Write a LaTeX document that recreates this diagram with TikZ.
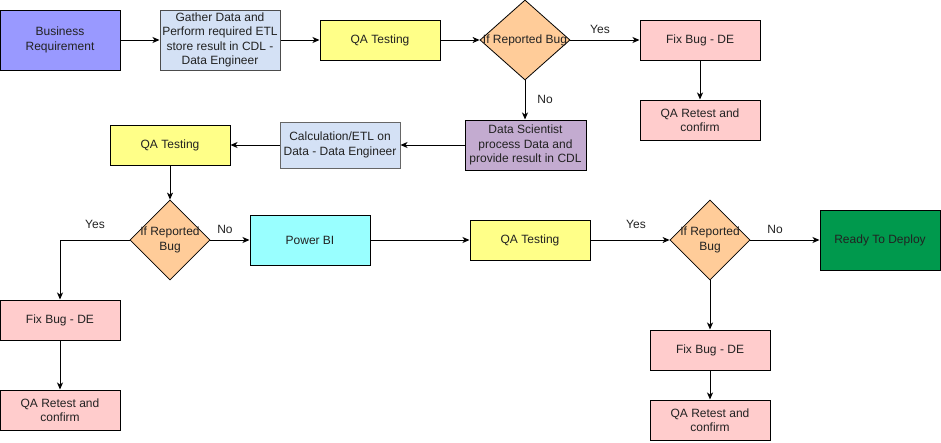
\documentclass[tikz,border=0pt]{standalone}
\usepackage{fontspec}
\setmainfont{Liberation Sans}
\usetikzlibrary{shapes.geometric,arrows.meta}
\definecolor{cBR}{HTML}{9999FF}
\definecolor{cGD}{HTML}{D4E1F5}
\definecolor{cQA}{HTML}{FFFF88}
\definecolor{cDia}{HTML}{FFCC99}
\definecolor{cFix}{HTML}{FFCCCC}
\definecolor{cDS}{HTML}{C3ABD0}
\definecolor{cPBI}{HTML}{99FFFF}
\definecolor{cRdy}{HTML}{00994D}
\definecolor{cTxt}{HTML}{222222}
\begin{document}
\begin{tikzpicture}[x=1pt,y=-1pt,
  every node/.style={font=\fontsize{12}{14.5}\selectfont, text=cTxt},
  box/.style={draw=black, line width=1pt, rectangle, align=center, inner sep=1pt,
    minimum width=120pt, minimum height=40pt},
  dia/.style={draw=black, line width=0.8pt, diamond, fill=cDia, inner sep=0pt,
    minimum width=80pt, minimum height=80pt},
  lbl/.style={align=center, inner sep=0pt},
  arr/.style={draw=black, line width=1pt, -{Stealth[length=7pt,width=6pt,inset=2pt]}},
  elbl/.style={inner sep=0pt}
]
\useasboundingbox (0,0) rectangle (941,442);

% top row
\node[box, fill=cBR, minimum height=60pt] (br) at (60,40) {Business\\Requirement};
\node[box, fill=cGD, minimum height=60pt, draw=black!70] (gd) at (220,40) {Gather Data and\\Perform required ETL\\store result in CDL -\\Data Engineer};
\node[box, fill=cQA] (qa1) at (380,40) {QA Testing};
\node[dia, minimum width=90pt, label={[lbl]center:{If Reported Bug}}] (d1) at (525,40) {};
\node[box, fill=cFix] (fix1) at (700,40) {Fix Bug - DE};
\node[box, fill=cFix] (rt1) at (700,120) {QA Retest and\\confirm};

% second row
\node[box, fill=cDS, minimum width=121pt, minimum height=50pt] (ds) at (525.5,145) {Data Scientist\\process Data and\\provide result in CDL};
\node[box, fill=cGD, minimum height=46pt, draw=black!60] (calc) at (340,145) {Calculation/ETL on\\Data - Data Engineer};
\node[box, fill=cQA] (qa2) at (170,145) {QA Testing};

% third row
\node[dia, label={[lbl]center:{If Reported\\Bug}}] (d2) at (170,240) {};
\node[box, fill=cPBI, minimum height=50pt] (pbi) at (310,240) {Power BI};
\node[box, fill=cQA] (qa3) at (530,240) {QA Testing};
\node[dia, label={[lbl]center:{If Reported\\Bug}}] (d3) at (710,240) {};
\node[box, fill=cRdy, minimum height=60pt] (rdy) at (880,240) {Ready To Deploy};

% bottom
\node[box, fill=cFix] (fix2) at (60,320) {Fix Bug - DE};
\node[box, fill=cFix] (rt2) at (60,410) {QA Retest and\\confirm};
\node[box, fill=cFix] (fix3) at (710,350) {Fix Bug - DE};
\node[box, fill=cFix] (rt3) at (710,420) {QA Retest and\\confirm};

% connectors
\draw[arr] (br) -- (gd);
\draw[arr] (gd) -- (qa1);
\draw[arr] (qa1) -- (d1);
\draw[arr] (d1) -- (fix1);
\draw[arr] (fix1) -- (rt1);
\draw[arr] (d1.south) -- (d1.south |- ds.north);
\draw[arr] (ds) -- (calc);
\draw[arr] (calc) -- (qa2);
\draw[arr] (qa2) -- (d2);
\draw[arr] (d2.west) -| (fix2.north);
\draw[arr] (fix2) -- (rt2);
\draw[arr] (d2) -- (pbi);
\draw[arr] (pbi) -- (qa3);
\draw[arr] (qa3) -- (d3);
\draw[arr] (d3) -- (rdy);
\draw[arr] (d3) -- (fix3);
\draw[arr] (fix3) -- (rt3);

% edge labels
\node[elbl] (y1) at (600,29) {Yes};
\node[elbl] (n1) at (545,99) {No};
\node[elbl] (y2) at (95,224) {Yes};
\node[elbl] (n2) at (225,229) {No};
\node[elbl] (y3) at (636,224) {Yes};
\node[elbl] (n3) at (775,229) {No};
\end{tikzpicture}
\end{document}
